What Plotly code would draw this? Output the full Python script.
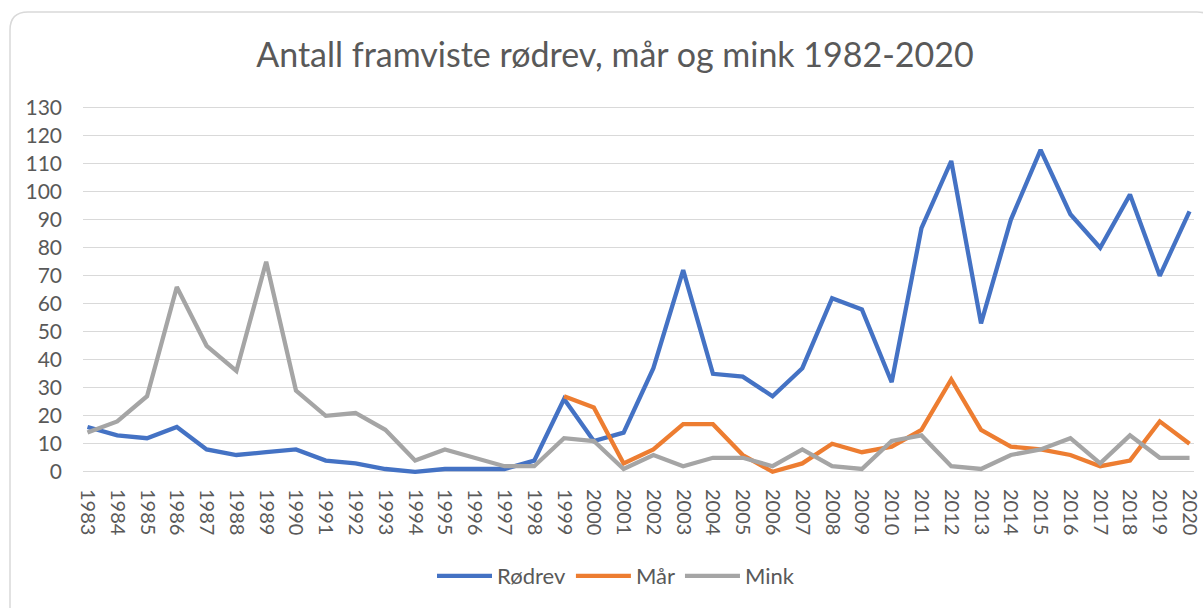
import plotly.graph_objects as go

years = [str(y) for y in range(1983, 2021)]

rodrev = [16, 13, 12, 16, 8, 6, 7, 8, 4, 3, 1, 0, 1, 1, 1, 4, 26, 11, 14, 37,
          72, 35, 34, 27, 37, 62, 58, 32, 87, 111, 53, 90, 115, 92, 80, 99, 70, 93]
mar = [None] * 16 + [27, 23, 3, 8, 17, 17, 6, 0, 3, 10, 7, 9, 15, 33, 15, 9, 8, 6, 2, 4, 18, 10]
mink = [14, 18, 27, 66, 45, 36, 75, 29, 20, 21, 15, 4, 8, 5, 2, 2, 12, 11, 1, 6,
        2, 5, 5, 2, 8, 2, 1, 11, 13, 2, 1, 6, 8, 12, 3, 13, 5, 5]

series_names = ["Rødrev", "Mår", "Mink"]
colors = ["#4472C4", "#ED7D31", "#A5A5A5"]
y_ticks = list(range(0, 131, 10))

FONT = "Lato"
TXT = "#595959"

W, H = 1203, 608
L, R, T, B = 83, 9, 104, 132
PW, PH = W - L - R, H - T - B

fig = go.Figure()
for name, vals, c in zip(series_names, [rodrev, mar, mink], colors):
    fig.add_trace(go.Scatter(x=years, y=vals, name=name, mode="lines",
                             line=dict(color=c, width=4.3), connectgaps=False))

def px2x(px):
    return (px - L) / PW

def px2y(py):
    return (H - B - py) / PH

# rounded chart border
x0, y0, x1, y1, r = 10, 12, 1215, 620, 18
path = (f"M {px2x(x0 + r)} {px2y(y0)} L {px2x(x1 - r)} {px2y(y0)} "
        f"Q {px2x(x1)} {px2y(y0)} {px2x(x1)} {px2y(y0 + r)} "
        f"L {px2x(x1)} {px2y(y1)} L {px2x(x0)} {px2y(y1)} "
        f"L {px2x(x0)} {px2y(y0 + r)} Q {px2x(x0)} {px2y(y0)} {px2x(x0 + r)} {px2y(y0)} Z")
fig.add_shape(type="path", path=path, xref="paper", yref="paper",
              line=dict(color="#D9D9D9", width=1.5), layer="below")

fig.update_layout(
    width=W, height=H,
    margin=dict(l=L, r=R, t=T, b=B, autoexpand=False),
    paper_bgcolor="white", plot_bgcolor="white",
    font=dict(family=FONT, color=TXT),
    title=dict(text="Antall framviste rødrev, mår og mink 1982-2020",
               x=615 / W, xref="container", xanchor="center",
               y=1 - 55 / H, yref="container", yanchor="middle",
               font=dict(family=FONT, size=34, color=TXT)),
    legend=dict(orientation="h", x=px2x(616), xanchor="center", xref="paper",
                y=px2y(576), yanchor="middle", yref="paper",
                font=dict(family=FONT, size=22, color=TXT),
                itemwidth=55, tracegroupgap=0, bgcolor="rgba(0,0,0,0)"),
    showlegend=True,
)
fig.update_xaxes(type="category", range=[-0.15, 37.15], tickangle=90,
                 showgrid=False, showline=False, zeroline=False, ticks="",
                 automargin=False,
                 tickfont=dict(family=FONT, size=20, color=TXT), ticklabelstandoff=12)
fig.update_yaxes(range=[-1.5, -1.5 + PH / 2.8], tickvals=y_ticks,
                 showgrid=True, gridcolor="#D9D9D9", gridwidth=1.3,
                 zeroline=False, showline=False, ticks="", automargin=False,
                 tickfont=dict(family=FONT, size=21, color=TXT), ticklabelstandoff=20)

fig.write_html("out.html", config={"displayModeBar": False},
               post_script="document.body.style.margin='0';document.body.style.overflow='hidden';")
